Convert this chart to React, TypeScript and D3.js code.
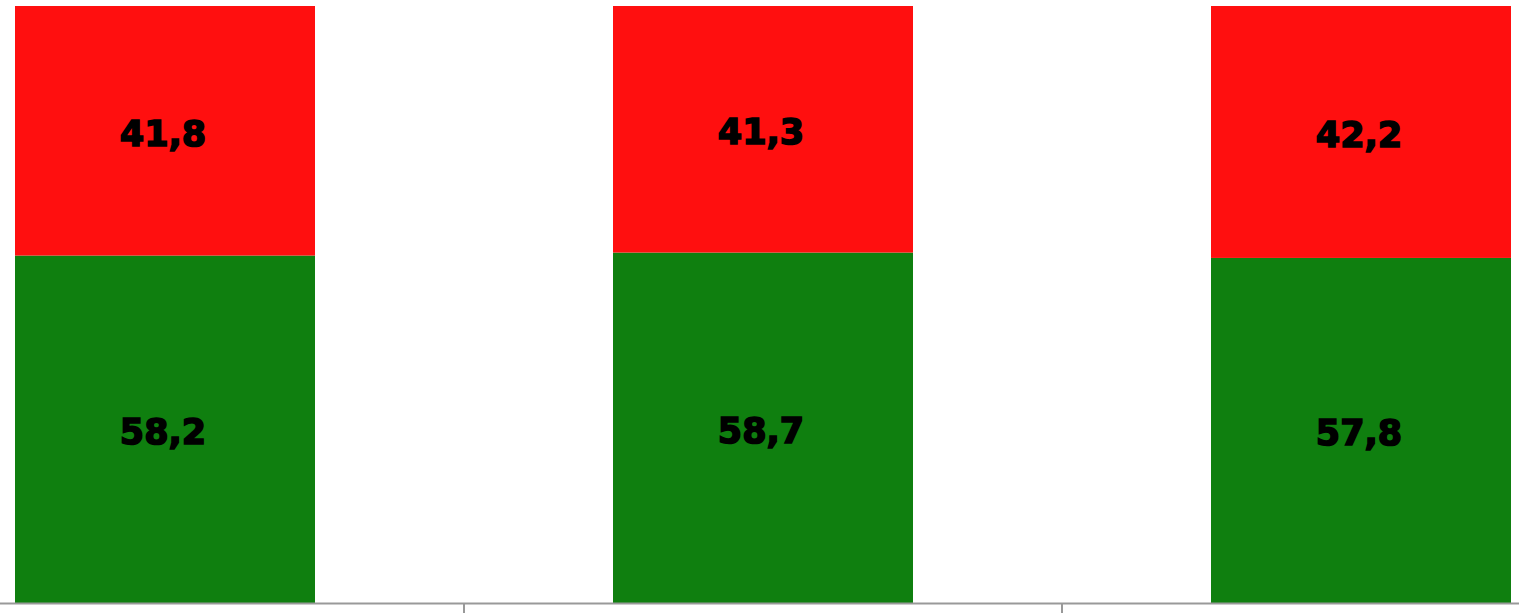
import React from "react";
import * as d3 from "d3";

const categories = ["A", "B", "C"];
const greenValues = [58.2, 58.7, 57.8];
const redValues = [41.8, 41.3, 42.2];

const W = 1519;
const H = 613;

export default function App() {
  const x = d3.scaleBand<string>().domain(categories).range([-134, 1660]).paddingInner(0).paddingOuter(0);
  const y = d3.scaleLinear().domain([0, 100]).range([603, 6]);
  const step = x.step();
  const barW = 300;
  const fmt = (v: number) => v.toFixed(1).replace(".", ",");
  const ticks = categories.slice(1).map((c) => x(c)!);
  const labelStyle = {
    fontFamily: "DejaVu Sans",
    fontWeight: 900,
    fontSize: 35,
  } as const;
  return (
    <svg width={W} height={H} style={{ position: "absolute", left: 0, top: 0, background: "#fff" }}>
      {categories.map((c, i) => {
        const cx = x(c)! + step / 2;
        const g = greenValues[i];
        const r = redValues[i];
        const yG = y(g);
        const yR = y(g + r);
        return (
          <g key={c}>
            <rect x={cx - barW / 2} y={yG} width={barW} height={y(0) - yG} fill="#0F7F0F" />
            <rect x={cx - barW / 2} y={yR} width={barW} height={yG - yR} fill="#FF0F0F" />
            <text x={cx - 2} y={(yG + y(0)) / 2 + 3} textAnchor="middle" dominantBaseline="central"
              style={labelStyle} fill="#000" stroke="#000" strokeWidth={1.6}>{fmt(g)}</text>
            <text x={cx - 2} y={(yR + yG) / 2 + 3} textAnchor="middle" dominantBaseline="central"
              style={labelStyle} fill="#000" stroke="#000" strokeWidth={1.6}>{fmt(r)}</text>
          </g>
        );
      })}
      <line x1={0} x2={W} y1={603.5} y2={603.5} stroke="#999" strokeWidth={2} />
      {ticks.map((t, i) => (
        <line key={i} x1={t} x2={t} y1={603} y2={613} stroke="#999" strokeWidth={2} />
      ))}
    </svg>
  );
}
